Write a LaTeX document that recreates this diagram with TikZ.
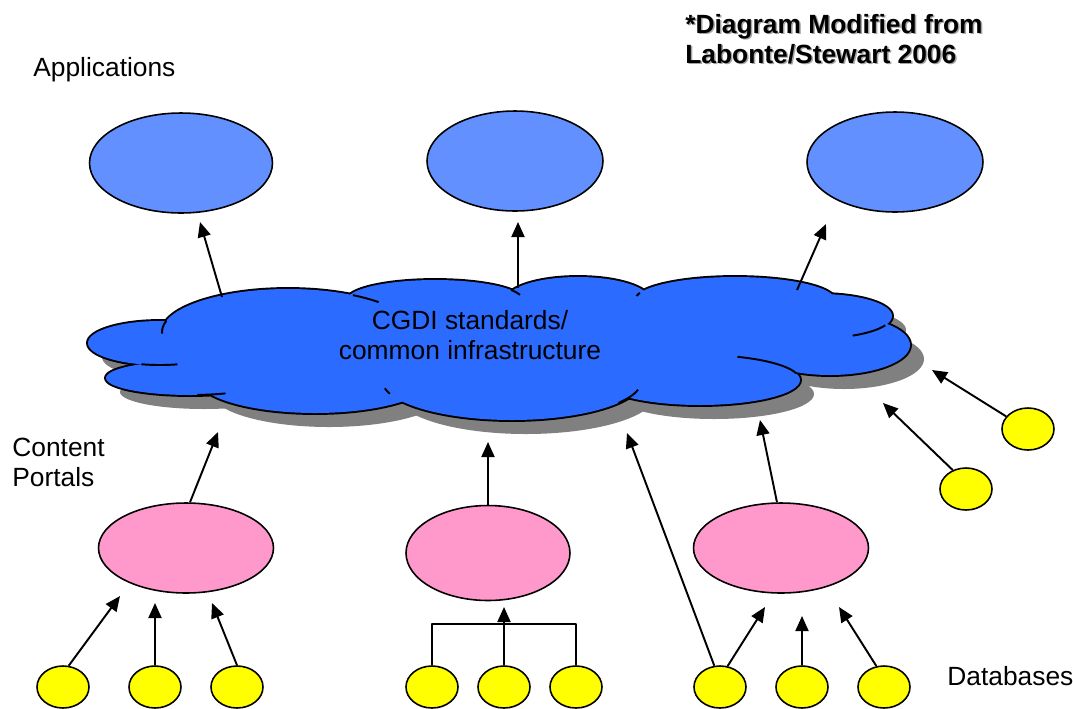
\documentclass[tikz,border=0pt]{standalone}
\usepackage{fontspec}
\setmainfont{Liberation Sans}
\usetikzlibrary{shapes.geometric,arrows.meta,positioning}

\definecolor{appblue}{RGB}{98,145,255}
\definecolor{cloudblue}{RGB}{43,107,255}
\definecolor{portalpink}{RGB}{255,153,204}
\definecolor{dbyellow}{RGB}{255,255,0}
\definecolor{shadowgray}{RGB}{128,128,128}

\tikzset{
  app/.style={ellipse, draw, line width=0.9pt, fill=appblue, minimum width=3.52cm, minimum height=2cm},
  portal/.style={ellipse, draw, line width=0.9pt, fill=portalpink, minimum width=3.5cm, minimum height=1.8cm},
  db/.style={ellipse, draw, line width=0.9pt, fill=dbyellow, minimum width=1.04cm, minimum height=0.84cm},
  link/.style={-{Triangle[length=0.3cm,width=0.26cm]}, line width=1.1pt},
  lbl/.style={inner sep=0pt, font=\fontsize{15}{17}\selectfont},
  credit/.style={inner sep=0pt, align=left, font=\fontsize{15}{17}\selectfont\bfseries}
}

% cloud lobes: centre x / centre y / x radius / y radius
\def\lobes{490/345/300/50, 288/332/126/43, 160/343/72/22, 190/378/84/17,
  315/378/118/35, 512/380/130/40, 700/380/100/25, 830/345/80/30,
  820/316/72/22, 735/300/100/23, 578/300/72/23, 435/300/88/20}

\begin{document}
\begin{tikzpicture}[x=0.02cm, y=-0.02cm, line join=round]
\useasboundingbox (0,0) rectangle (1073,708);

    % Draw the cloud shadow
    \foreach \cx/\cy/\rx/\ry in \lobes
      \fill[shadowgray] (\cx+14,\cy+14) ellipse[x radius=\rx, y radius=\ry];

    % Draw the cloud outline, then fill it
    \foreach \cx/\cy/\rx/\ry in \lobes
      \draw[line width=2.2pt] (\cx,\cy) ellipse[x radius=\rx, y radius=\ry];
    \foreach \cx/\cy/\rx/\ry in \lobes
      \fill[cloudblue] (\cx,\cy) ellipse[x radius=\rx, y radius=\ry];

    % Draw the creases inside the cloud
    \foreach \cx/\cy/\rx/\ry/\a/\b in {288/332/126/43/195/178, 288/332/126/43/301/316,
      160/343/72/22/105/76, 190/378/84/17/85/65, 435/300/88/20/330/345,
      735/300/100/23/198/190, 820/316/72/22/25/63, 700/380/100/25/292/345,
      512/380/130/40/160/168, 512/380/130/40/35/14}
      \draw[line width=1.1pt] ({\cx+\rx*cos(\a)},{\cy+\ry*sin(\a)})
        arc[start angle=\a, end angle=\b, x radius=\rx, y radius=\ry];

    \node[lbl, align=center] (cgdi) at (470,335) {CGDI standards/\\common infrastructure};

    % Applications
    \node[app, minimum width=3.66cm] (app1) at (181,163) {};
    \node[app] (app2) at (515,161) {};
    \node[app] (app3) at (895,162) {};

    % Content portals
    \node[portal] (portal1) at (186,548) {};
    \node[portal, minimum width=3.28cm, minimum height=1.9cm] (portal2) at (488,553) {};
    \node[portal] (portal3) at (781,548) {};

    % Databases
    \foreach \n/\x in {1/63, 2/155, 3/237, 4/432, 5/504, 6/576, 7/720, 8/802, 9/884}
      \node[db] (db\n) at (\x,687) {};
    \node[db] (db10) at (1028,429) {};
    \node[db] (db11) at (966,489) {};

    % Arrow ends
    \coordinate (cl1) at (222,297);
    \coordinate (cl2) at (518,288);
    \coordinate (cl3) at (797,290);
    \coordinate (a1tip) at (200,222);
    \coordinate (a2tip) at (518,222);
    \coordinate (a3tip) at (826,224);
    \coordinate (c1tip) at (218,432);
    \coordinate (c2tip) at (488,442);
    \coordinate (c3tip) at (760,420);
    \coordinate (c4tip) at (627,433);
    \coordinate (c5tip) at (932,370);
    \coordinate (c6tip) at (883,403);
    \coordinate (p1tipa) at (120,596);
    \coordinate (p1tipb) at (155,603);
    \coordinate (p1tipc) at (212,603);
    \coordinate (p2tip) at (504,607);
    \coordinate (p3tipa) at (765,607);
    \coordinate (p3tipb) at (802,616);
    \coordinate (p3tipc) at (839,607);

    % Cloud to applications
    \draw[link] (cl1) -- (a1tip);
    \draw[link] (cl2) -- (a2tip);
    \draw[link] (cl3) -- (a3tip);

    % Portals to cloud
    \draw[link] (portal1.85) -- (c1tip);
    \draw[link] (portal2.north) -- (c2tip);
    \draw[link] (portal3.95) -- (c3tip);

    % Databases to portals and cloud
    \draw[link] (db1.75) -- (p1tipa);
    \draw[link] (db2.north) -- (p1tipb);
    \draw[link] (db3.north) -- (p1tipc);
    \draw[line width=1.1pt] (db4.north) -- ++(0,-41) -| (db6.north);
    \draw[link] (db5.north) -- (p2tip);
    \draw[link] (db7.105) -- (c4tip);
    \draw[link] (db7.70) -- (p3tipa);
    \draw[link] (db8.north) -- (p3tipb);
    \draw[link] (db9.110) -- (p3tipc);
    \draw[link] (db10.150) -- (c5tip);
    \draw[link] (db11.125) -- (c6tip);

    % Labels
    \node[lbl, anchor=west] (applabel) at (33,70) {Applications};
    \node[lbl, anchor=north west, align=left] (portallabel) at (12,438) {Content\\Portals};
    \node[lbl, anchor=west] (dblabel) at (947,676) {Databases};
    \node[credit, anchor=north west, text=black!35] (creditshadow) at (686.5,15.5) {*Diagram Modified from\\Labonte/Stewart 2006};
    \node[credit, anchor=north west] (credit) at (685,14) {*Diagram Modified from\\Labonte/Stewart 2006};
\end{tikzpicture}
\end{document}
